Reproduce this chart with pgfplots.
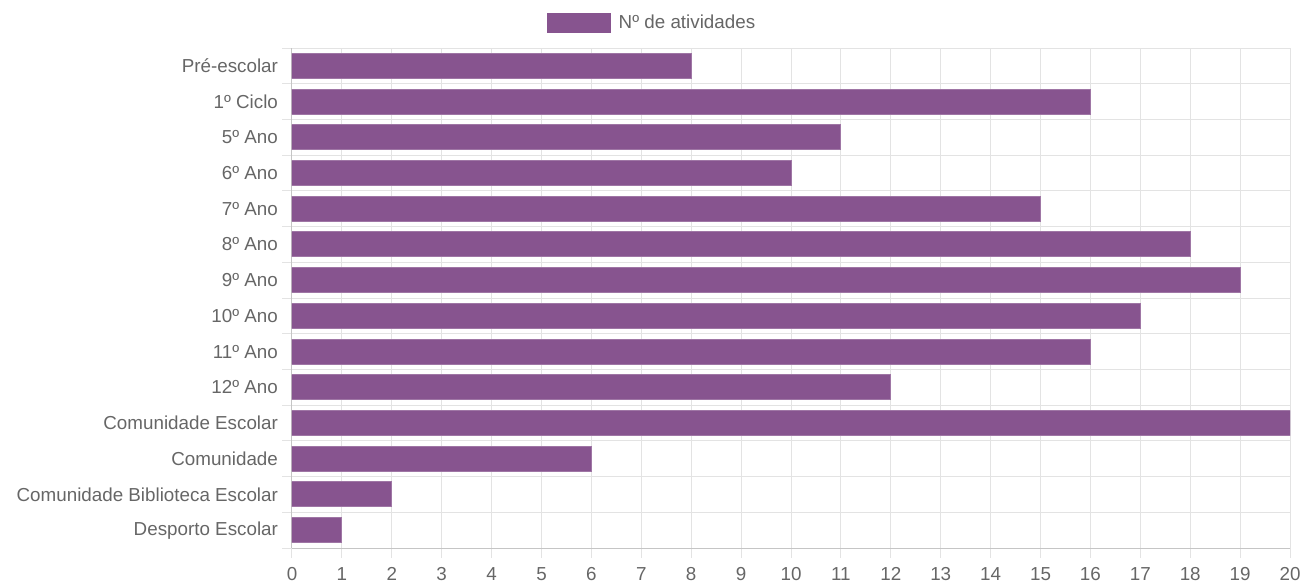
\documentclass[border=0pt]{standalone}
\usepackage{pgfplots}
\pgfplotsset{compat=1.18}
\usepackage{fontspec}
\setmainfont{Liberation Sans}
\definecolor{barcol}{HTML}{87548F}
\definecolor{txt}{HTML}{666666}
\definecolor{gridc}{HTML}{E3E3E3}

\pgfplotstableread[col sep=comma]{
idx,val
0,8
1,16
2,11
3,10
4,15
5,18
6,19
7,17
8,16
9,12
10,20
11,6
12,2
13,1
}\datatable

\begin{document}
\begin{tikzpicture}
\path (-146pt,-18.5pt) rectangle (506pt,274pt);
\begin{axis}[
    at={(0,0)}, anchor=south west,
    scale only axis,
    width=499pt, height=250pt,
    xbar, bar width=12.5pt,
    xmin=0, xmax=20, xtick distance=1,
    ymin=-0.5, ymax=13.5, y dir=reverse,
    ytick={0,...,13},
    yticklabels={Pré-escolar,1º Ciclo,5º Ano,6º Ano,7º Ano,8º Ano,9º Ano,10º Ano,11º Ano,12º Ano,Comunidade Escolar,Comunidade,Comunidade Biblioteca Escolar,Desporto Escolar},
    minor ytick={-0.5,0.5,...,13.5},
    major tick length=5pt,
    minor tick length=5pt,
    xmajorgrids, yminorgrids,
    tick align=outside,
    xtick pos=bottom, ytick pos=left,
    major x tick style={draw=gridc, line width=0.5pt},
    major y tick style={draw=none},
    minor y tick style={draw=gridc, line width=0.5pt},
    grid style={draw=gridc, line width=0.5pt},
    axis line style={draw=gridc!70!gray, line width=0.5pt},
    axis x line*=bottom, axis y line*=left,
    ticklabel style={font=\fontsize{9.4}{11}\selectfont, text=txt},
    xticklabel style={yshift=-4.5pt, inner xsep=0pt, inner ysep=0pt},
    yticklabel style={xshift=1.5pt},
    /pgf/number format/assume math mode=true,
    legend style={at={(0.3617,1.05)}, anchor=center, draw=none, fill=none,
        font=\fontsize{9.4}{11}\selectfont, text=txt, column sep=2pt},
    legend image code/.code={\fill[barcol] (0pt,-4.75pt) rectangle (31.5pt,4.75pt);},
]
\addplot[fill=barcol, draw=barcol!80!white, line width=0.5pt] table[x=val, y=idx, col sep=comma] {\datatable};
\addlegendentry{Nº de atividades}
\end{axis}
\end{tikzpicture}
\end{document}
